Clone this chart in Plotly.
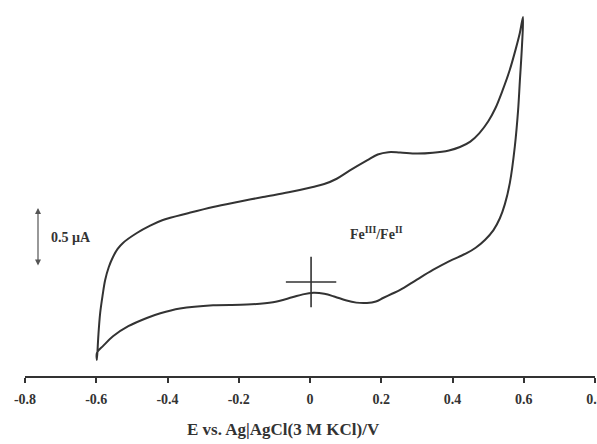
import plotly.graph_objects as go

# Cyclic voltammogram (potential in V, current in µA relative to the cross marker)
E_forward = [-0.598, -0.594, -0.589, -0.582, -0.575, -0.565, -0.553, -0.540, -0.525, -0.486,
             -0.450, -0.413, -0.340, -0.272, -0.200, -0.132, -0.060, 0.008, 0.040, 0.075,
             0.112, 0.160, 0.190, 0.220, 0.253, 0.300, 0.345, 0.390, 0.421, 0.450, 0.475,
             0.500, 0.520, 0.540, 0.560, 0.578, 0.589, 0.598]
I_forward = [-0.661, -0.450, -0.263, -0.110, 0.017, 0.125, 0.212, 0.280, 0.331, 0.415,
             0.475, 0.525, 0.585, 0.636, 0.680, 0.720, 0.760, 0.805, 0.830, 0.875,
             0.945, 1.030, 1.080, 1.100, 1.097, 1.088, 1.095, 1.115, 1.144, 1.190, 1.260,
             1.360, 1.470, 1.620, 1.790, 1.980, 2.110, 2.246]
E_reverse = [0.598, 0.595, 0.589, 0.584, 0.575, 0.561, 0.547, 0.533, 0.515, 0.491, 0.465,
             0.441, 0.390, 0.345, 0.300, 0.253, 0.230, 0.205, 0.185, 0.160, 0.130, 0.100,
             0.070, 0.040, 0.010, -0.020, -0.050, -0.104, -0.177, -0.272, -0.365, -0.420,
             -0.458, -0.510, -0.553, -0.580, -0.598, -0.598]
I_reverse = [2.246, 2.000, 1.700, 1.450, 1.150, 0.840, 0.660, 0.540, 0.440, 0.356, 0.290,
             0.246, 0.175, 0.102, 0.020, -0.068, -0.100, -0.136, -0.165, -0.178, -0.175,
             -0.155, -0.125, -0.100, -0.092, -0.105, -0.130, -0.172, -0.192, -0.197, -0.225,
             -0.265, -0.305, -0.375, -0.460, -0.540, -0.600, -0.661]

tick_vals = [-0.8, -0.6, -0.4, -0.2, 0.0, 0.2, 0.4, 0.6, 0.8]
tick_text = ["-0.8", "-0.6", "-0.4", "-0.2", "0", "0.2", "0.4", "0.6", "0.8"]

origin_E = [0.003]
origin_I = [0.0]

scale_x = -0.7635
scale_bottom = 0.127
scale_len = 0.5

FONT = "Liberation Serif"
INK = "#333333"

E_all = E_forward + E_reverse[1:]
I_all = I_forward + I_reverse[1:]

fig = go.Figure()
fig.add_trace(go.Scatter(x=E_all, y=I_all, mode="lines",
                         line=dict(color=INK, width=2, shape="spline", smoothing=1.0),
                         hoverinfo="skip", showlegend=False))
fig.add_trace(go.Scatter(x=origin_E, y=origin_I, mode="markers",
                         marker=dict(symbol="cross-thin", size=36,
                                     line=dict(color=INK, width=1.6)),
                         showlegend=False, hoverinfo="skip"))

# scale bar
fig.add_annotation(x=scale_x, y=scale_bottom + scale_len, ax=scale_x, ay=scale_bottom,
                   xref="x", yref="y", axref="x", ayref="y", text="",
                   showarrow=True, arrowhead=2, arrowside="end+start", arrowsize=1,
                   arrowwidth=1.2, arrowcolor="#555555")
fig.add_annotation(x=scale_x + 0.032, y=scale_bottom + scale_len / 2, xref="x", yref="y",
                   text="0.5 µA", showarrow=False, xanchor="left", yanchor="middle",
                   font=dict(family=FONT, size=14, color=INK, weight="bold"))
fig.add_annotation(x=0.188, y=0.415, xref="x", yref="y",
                   text="Fe<sup>III</sup>/Fe<sup>II</sup>", showarrow=False,
                   font=dict(family=FONT, size=14, color=INK, weight="bold"))
fig.add_annotation(x=0.453, y=-0.1436, xref="paper", yref="paper",
                   text="E vs. Ag|AgCl(3 M KCl)/V", showarrow=False,
                   xanchor="center", yanchor="middle",
                   font=dict(family=FONT, size=17, color=INK, weight="bold"))

fig.update_layout(
    width=597, height=444,
    margin=dict(l=25, r=2, t=0, b=68, autoexpand=False),
    paper_bgcolor="white", plot_bgcolor="white",
    xaxis=dict(range=[-0.8, 0.8], tickvals=tick_vals, ticktext=tick_text,
               showline=True, linecolor=INK, linewidth=2, ticks="outside",
               ticklen=5, tickwidth=2, tickcolor=INK, showgrid=False, zeroline=False,
               ticklabelstandoff=4, ticklabeloverflow="allow", automargin=False,
               tickfont=dict(family=FONT, size=14, color=INK, weight="bold")),
    yaxis=dict(range=[-0.797, 2.390], visible=False, showgrid=False, zeroline=False),
)

fig.write_html("out.html")
